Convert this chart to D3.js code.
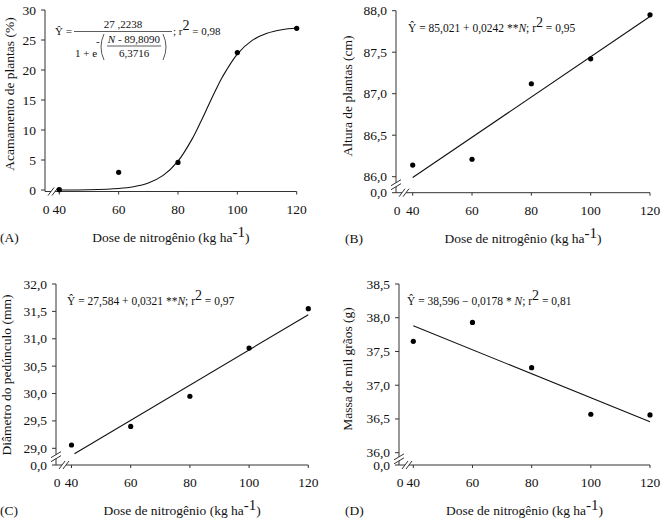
<!DOCTYPE html>
<html><head><meta charset="utf-8">
<script src="https://cdn.jsdelivr.net/npm/d3@7/dist/d3.min.js"></script>
<style>
body{margin:0;background:#fff}
svg{display:block}
</style></head>
<body><svg id="c" width="663" height="523" font-family="'Liberation Serif', Tinos, 'Times New Roman', Times, 'DejaVu Serif', serif"></svg>
<script>
// ---- data ----
const doses = [40, 60, 80, 100, 120];
const xTicks = [40, 60, 80, 100, 120];

const acamamento = [0.05, 2.95, 4.6, 22.9, 26.95];
const acamCurveN = [40, 50, 60, 65, 70, 75, 80, 85, 87.5, 90, 92.5, 95, 100, 105, 110, 115, 120];
const acamCurveY = [0.01, 0.05, 0.25, 0.54, 1.16, 2.43, 4.81, 8.71, 11.2, 13.82, 16.45, 18.87, 22.65, 24.93, 26.12, 26.71, 26.99];
const acamTicks = [0, 5, 10, 15, 20, 25, 30];

const altura = [86.14, 86.21, 87.12, 87.42, 87.95];
const alturaFitN = [40, 120];
const alturaFitY = [85.99, 87.93];
const alturaTicks = [86.0, 86.5, 87.0, 87.5, 88.0];

const diametro = [29.06, 29.40, 29.95, 30.83, 31.55];
const diametroFitN = [41, 120];
const diametroFitY = [28.90, 31.44];
const diametroTicks = [29.0, 29.5, 30.0, 30.5, 31.0, 31.5, 32.0];

const massa = [37.65, 37.93, 37.26, 36.57, 36.56];
const massaFitN = [40, 120];
const massaFitY = [37.88, 36.46];
const massaTicks = [36.0, 36.5, 37.0, 37.5, 38.0, 38.5];

const xTitle = "Dose de nitrogênio (kg ha";
// ---- drawing ----
const svg = d3.select("#c");
const FS = 13.5;
const fmt1 = d3.formatLocale({decimal: ",", thousands: ".", grouping: [3], currency: ["", ""]}).format(".1f");

function panel(o) {
  const g = svg.append("g").attr("fill", "#111");
  const x = d3.scaleLinear().domain([40, 120]).range([o.x40, o.x120]);
  const y = d3.scaleLinear().domain(o.yDomain).range([o.yBot, o.yTop]);
  const axY = o.axisY;
  const axX = o.axisX;
  const stroke = "#333";

  g.append("line").attr("x1", axX).attr("x2", axX).attr("y1", o.yTop).attr("y2", axY)
    .attr("stroke", stroke).attr("stroke-width", 1);
  g.append("line").attr("x1", axX).attr("x2", o.x120).attr("y1", axY).attr("y2", axY)
    .attr("stroke", stroke).attr("stroke-width", 1);

  const yt = g.selectAll(".yt").data(o.yTicks).enter();
  yt.append("line").attr("x1", axX - 4).attr("x2", axX).attr("y1", d => y(d)).attr("y2", d => y(d))
    .attr("stroke", stroke);
  yt.append("text").attr("x", axX - 9).attr("y", d => y(d) + 4.5).attr("text-anchor", "end")
    .attr("font-size", FS).text(d => o.yFmt(d));
  if (o.yBreak) {
    g.append("line").attr("x1", axX - 4).attr("x2", axX).attr("y1", axY).attr("y2", axY).attr("stroke", stroke);
    g.append("text").attr("x", axX - 9).attr("y", axY + 4.5).attr("text-anchor", "end")
      .attr("font-size", FS).text(o.yFmt(0));
    const by = (y(o.yDomain[0]) + axY) / 2;
    g.append("rect").attr("x", axX - 2).attr("y", by - 2).attr("width", 4).attr("height", 4).attr("fill", "#fff");
    [-2, 2].forEach(dy => g.append("line").attr("x1", axX - 5).attr("x2", axX + 5)
      .attr("y1", by + dy + 3).attr("y2", by + dy - 3).attr("stroke", stroke));
  }
  const xt = g.selectAll(".xt").data(xTicks).enter();
  xt.append("line").attr("x1", d => x(d)).attr("x2", d => x(d)).attr("y1", axY).attr("y2", axY + 3)
    .attr("stroke", stroke);
  xt.append("text").attr("x", d => x(d)).attr("y", axY + 22).attr("text-anchor", "middle")
    .attr("font-size", FS).text(d => d);
  g.append("text").attr("x", axX + 1).attr("y", axY + 22).attr("text-anchor", "middle")
    .attr("font-size", FS).text("0");
  const bx = axX + 8;
  g.append("rect").attr("x", bx - 2).attr("y", axY - 2).attr("width", 4).attr("height", 4).attr("fill", "#fff");
  [-2, 2].forEach(dx => g.append("line").attr("x1", bx + dx - 3).attr("x2", bx + dx + 3)
    .attr("y1", axY + 4).attr("y2", axY - 4).attr("stroke", stroke));

  const line = d3.line().x(d => x(d[0])).y(d => y(d[1]));
  if (o.curve) line.curve(d3.curveCatmullRom);
  g.append("path").attr("d", line(o.fitN.map((n, i) => [n, o.fitY[i]])))
    .attr("fill", "none").attr("stroke", "#111").attr("stroke-width", 1.1);

  g.selectAll(".pt").data(doses.map((n, i) => [n, o.values[i]])).enter()
    .append("circle").attr("cx", d => x(d[0])).attr("cy", d => y(d[1])).attr("r", 2.6).attr("fill", "#000");

  g.append("text").attr("transform", `translate(${o.yTitleX},${o.yTitleY}) rotate(-90)`)
    .attr("text-anchor", "middle").attr("font-size", FS).text(o.yTitle);
  const tx = g.append("text").attr("x", (axX + o.x120) / 2).attr("y", axY + 50)
    .attr("text-anchor", "middle").attr("font-size", FS);
  tx.append("tspan").text(xTitle);
  tx.append("tspan").attr("dy", -5).attr("font-size", 15).text("-1");
  tx.append("tspan").attr("dy", 5).text(")");
  g.append("text").attr("x", o.letterX).attr("y", axY + 50).attr("font-size", FS).text(o.letter);
  return {g, x, y};
}

// Panel A
const A = panel({x40: 59.3, x120: 296.7, yDomain: [0, 30], yBot: 190, yTop: 10, axisY: 191.5, axisX: 45,
  yTicks: acamTicks, yFmt: d => d, yBreak: false, values: acamamento, fitN: acamCurveN, fitY: acamCurveY, curve: true,
  yTitle: "Acamamento de plantas (%)", yTitleX: 14, yTitleY: 94, letter: "(A)", letterX: 0});
(function () {
  const g = A.g, fs = 11;
  g.append("text").attr("x", 55).attr("y", 35).attr("font-size", fs).text("Ŷ =");
  g.append("text").attr("x", 123).attr("y", 28).attr("text-anchor", "middle").attr("font-size", fs).text("27 ,2238");
  g.append("line").attr("x1", 74).attr("x2", 172).attr("y1", 31.5).attr("y2", 31.5).attr("stroke", "#333").attr("stroke-width", 0.8);
  g.append("text").attr("x", 75).attr("y", 57).attr("font-size", fs).text("1 + e");
  g.append("text").attr("x", 96).attr("y", 45).attr("font-size", fs).text("-");
  g.append("path").attr("d", "M104,34 Q98,47 104,60").attr("fill", "none").attr("stroke", "#444").attr("stroke-width", 0.9);
  g.append("path").attr("d", "M163,34 Q169,47 163,60").attr("fill", "none").attr("stroke", "#444").attr("stroke-width", 0.9);
  const n = g.append("text").attr("x", 134).attr("y", 43).attr("text-anchor", "middle").attr("font-size", fs);
  n.append("tspan").attr("font-style", "italic").text("N");
  n.append("tspan").text(" - 89,8090");
  g.append("line").attr("x1", 107).attr("x2", 161).attr("y1", 46).attr("y2", 46).attr("stroke", "#333").attr("stroke-width", 0.8);
  g.append("text").attr("x", 134).attr("y", 57).attr("text-anchor", "middle").attr("font-size", fs).text("6,3716");
  const r = g.append("text").attr("x", 173).attr("y", 35).attr("font-size", fs);
  r.append("tspan").text("; r");
  r.append("tspan").attr("dy", -5).attr("font-size", 14).text("2");
  r.append("tspan").attr("dy", 5).text(" = 0,98");
})();

function eq(g, x0, y0, parts) {
  const t = g.append("text").attr("x", x0).attr("y", y0).attr("font-size", 11.5);
  parts.forEach(p => {
    const s = t.append("tspan").text(p.t);
    if (p.i) s.attr("font-style", "italic");
    if (p.sup) s.attr("dy", -5).attr("font-size", 14);
    if (p.down) s.attr("dy", 5);
  });
}

const B = panel({x40: 412.7, x120: 650, yDomain: [86, 88], yBot: 176.7, yTop: 10.7, axisY: 192.7, axisX: 396,
  yTicks: alturaTicks, yFmt: fmt1, yBreak: true, values: altura, fitN: alturaFitN, fitY: alturaFitY,
  yTitle: "Altura de plantas (cm)", yTitleX: 352, yTitleY: 96, letter: "(B)", letterX: 345});
eq(B.g, 408, 32, [{t: "Ŷ = 85,021 + 0,0242 **"}, {t: "N", i: 1}, {t: "; r"}, {t: "2", sup: 1}, {t: " = 0,95", down: 1}]);

const C = panel({x40: 71.5, x120: 308.3, yDomain: [29, 32], yBot: 448.3, yTop: 284, axisY: 465, axisX: 56,
  yTicks: diametroTicks, yFmt: fmt1, yBreak: true, values: diametro, fitN: diametroFitN, fitY: diametroFitY,
  yTitle: "Diâmetro do pedúnculo (mm)", yTitleX: 11, yTitleY: 375, letter: "(C)", letterX: 0});
eq(C.g, 67, 305, [{t: "Ŷ = 27,584 + 0,0321 **"}, {t: "N", i: 1}, {t: "; r"}, {t: "2", sup: 1}, {t: " = 0,97", down: 1}]);

const D = panel({x40: 413.3, x120: 650, yDomain: [36, 38.5], yBot: 452.7, yTop: 284, axisY: 465, axisX: 399,
  yTicks: massaTicks, yFmt: fmt1, yBreak: true, values: massa, fitN: massaFitN, fitY: massaFitY,
  yTitle: "Massa de mil grãos (g)", yTitleX: 352, yTitleY: 369, letter: "(D)", letterX: 345});
eq(D.g, 407, 305, [{t: "Ŷ = 38,596 − 0,0178 * "}, {t: "N", i: 1}, {t: "; r"}, {t: "2", sup: 1}, {t: " = 0,81", down: 1}]);
</script>
</body></html>
